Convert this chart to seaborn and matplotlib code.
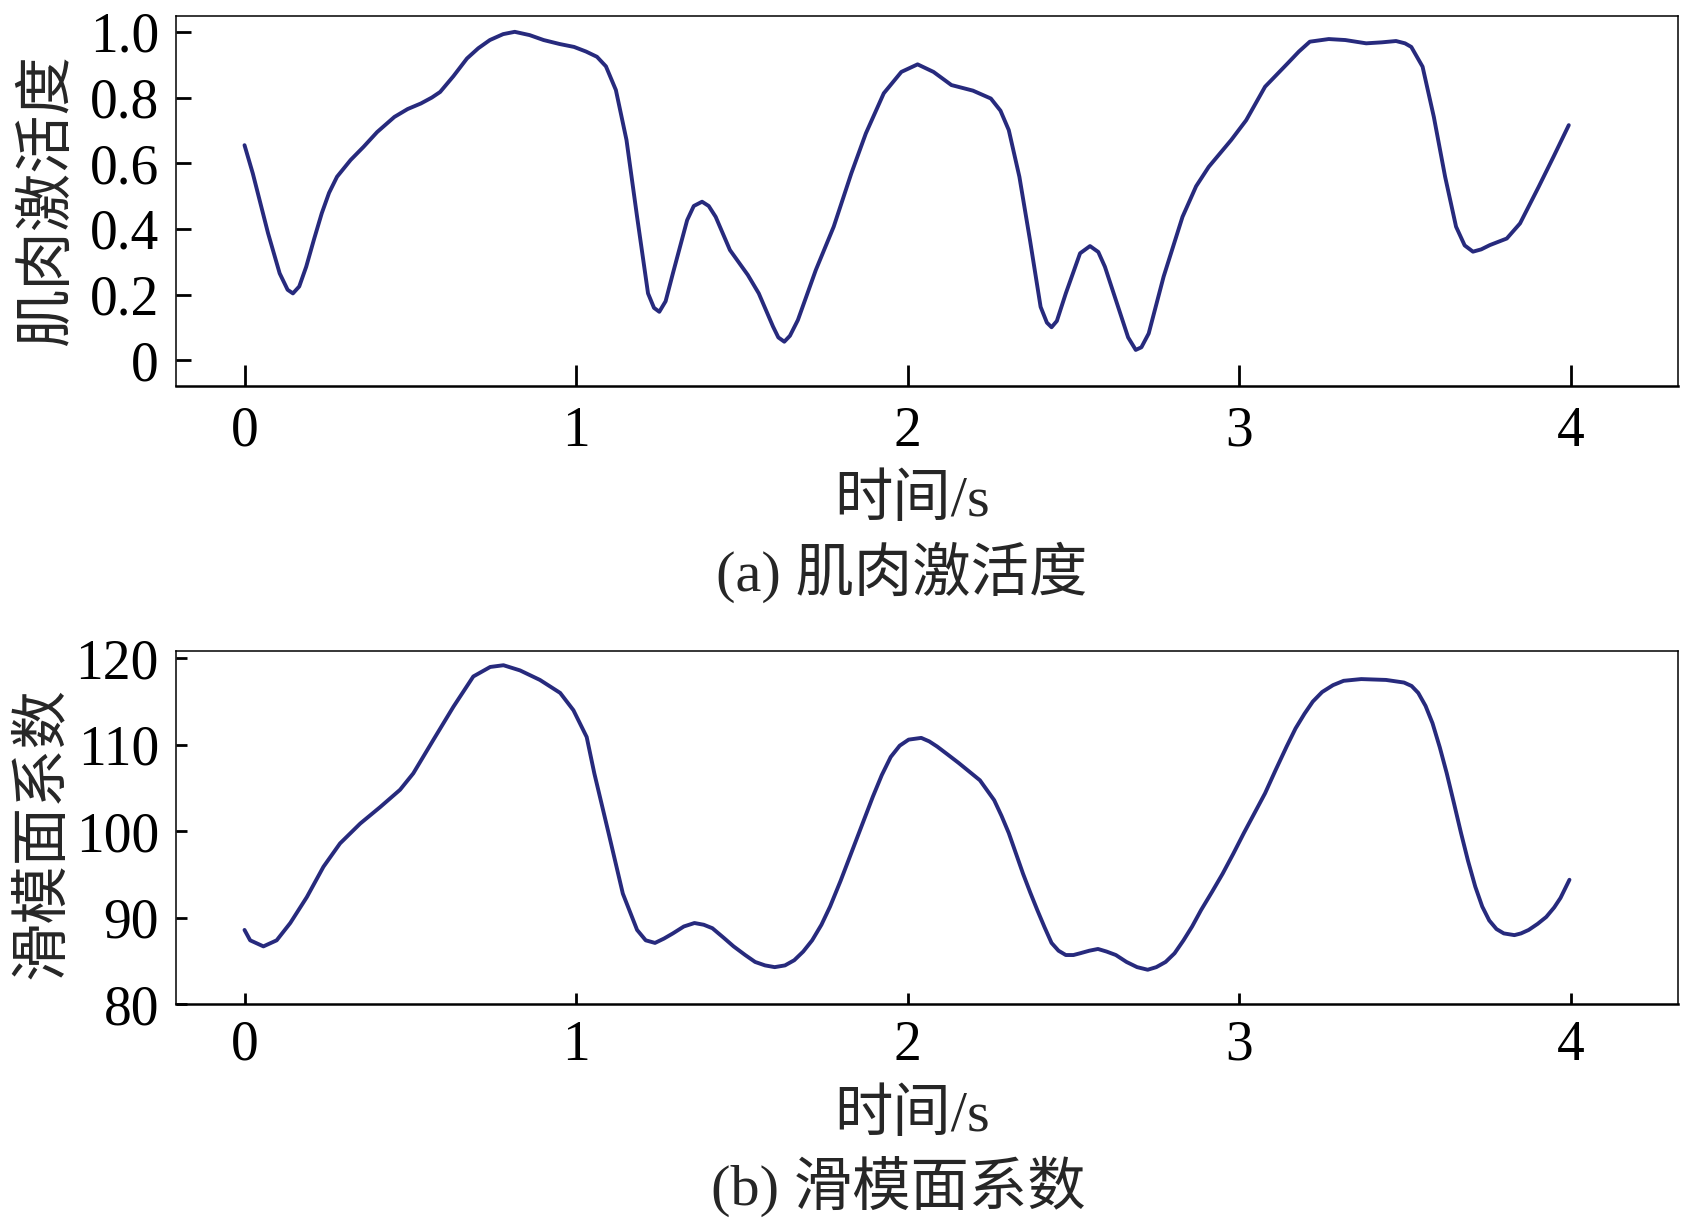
import matplotlib
matplotlib.use('Agg')
import matplotlib.pyplot as plt
import seaborn as sns
import pandas as pd

# (a) 肌肉激活度 — 读图取点
time_a = [0.000, 0.025, 0.071, 0.106, 0.130, 0.146, 0.165, 0.186, 0.210, 0.233,
          0.255, 0.279, 0.320, 0.359, 0.400, 0.452, 0.492, 0.532, 0.565, 0.590,
          0.630, 0.671, 0.705, 0.740, 0.780, 0.815, 0.860, 0.902, 0.950, 0.994,
          1.030, 1.063, 1.090, 1.120, 1.152, 1.184, 1.217, 1.235, 1.251, 1.270,
          1.292, 1.335, 1.355, 1.380, 1.400, 1.421, 1.464, 1.518, 1.551, 1.594,
          1.610, 1.628, 1.645, 1.669, 1.723, 1.777, 1.830, 1.874, 1.928, 1.981,
          2.030, 2.078, 2.132, 2.197, 2.251, 2.280, 2.305, 2.337, 2.369, 2.401,
          2.420, 2.434, 2.450, 2.477, 2.520, 2.550, 2.575, 2.595, 2.638, 2.665,
          2.688, 2.705, 2.727, 2.772, 2.829, 2.870, 2.908, 2.976, 3.021, 3.078,
          3.146, 3.180, 3.213, 3.270, 3.320, 3.383, 3.430, 3.473, 3.500, 3.519,
          3.553, 3.587, 3.621, 3.654, 3.680, 3.705, 3.730, 3.756, 3.807, 3.847,
          3.903, 3.948, 3.994]
act_a = [0.655, 0.569, 0.387, 0.265, 0.215, 0.204, 0.225, 0.285, 0.370, 0.448,
         0.510, 0.559, 0.610, 0.650, 0.695, 0.741, 0.765, 0.782, 0.800, 0.817,
         0.865, 0.919, 0.950, 0.975, 0.993, 1.000, 0.990, 0.975, 0.963, 0.954,
         0.940, 0.924, 0.895, 0.823, 0.671, 0.437, 0.204, 0.160, 0.148, 0.180,
         0.265, 0.427, 0.470, 0.483, 0.470, 0.437, 0.336, 0.260, 0.204, 0.103,
         0.070, 0.057, 0.075, 0.123, 0.275, 0.407, 0.569, 0.691, 0.813, 0.878,
         0.901, 0.878, 0.838, 0.821, 0.797, 0.760, 0.701, 0.559, 0.366, 0.163,
         0.115, 0.101, 0.120, 0.204, 0.326, 0.348, 0.330, 0.285, 0.153, 0.070,
         0.032, 0.040, 0.082, 0.255, 0.437, 0.530, 0.589, 0.671, 0.731, 0.833,
         0.904, 0.940, 0.970, 0.978, 0.975, 0.965, 0.968, 0.972, 0.965, 0.954,
         0.894, 0.741, 0.559, 0.407, 0.350, 0.331, 0.338, 0.351, 0.371, 0.417,
         0.528, 0.620, 0.716]

# (b) 滑模面系数
time_b = [0.000, 0.017, 0.057, 0.097, 0.138, 0.188, 0.238, 0.288, 0.349, 0.409,
          0.469, 0.509, 0.570, 0.630, 0.690, 0.741, 0.781, 0.831, 0.891, 0.952,
          0.992, 1.032, 1.055, 1.098, 1.141, 1.184, 1.210, 1.238, 1.265, 1.292,
          1.325, 1.357, 1.385, 1.411, 1.445, 1.475, 1.510, 1.540, 1.570, 1.599,
          1.630, 1.658, 1.685, 1.712, 1.740, 1.766, 1.798, 1.830, 1.863, 1.895,
          1.922, 1.949, 1.976, 2.003, 2.041, 2.065, 2.089, 2.120, 2.154, 2.186,
          2.218, 2.261, 2.283, 2.305, 2.327, 2.348, 2.370, 2.391, 2.413, 2.434,
          2.455, 2.477, 2.500, 2.520, 2.548, 2.574, 2.600, 2.628, 2.660, 2.692,
          2.724, 2.750, 2.778, 2.805, 2.832, 2.858, 2.885, 2.918, 2.950, 2.982,
          3.014, 3.046, 3.078, 3.110, 3.143, 3.170, 3.197, 3.222, 3.250, 3.283,
          3.315, 3.368, 3.443, 3.497, 3.520, 3.540, 3.562, 3.583, 3.605, 3.626,
          3.648, 3.669, 3.690, 3.712, 3.733, 3.754, 3.776, 3.798, 3.830, 3.850,
          3.873, 3.900, 3.926, 3.950, 3.969, 3.996]
smc_b = [88.6, 87.4, 86.7, 87.4, 89.4, 92.4, 95.9, 98.6, 100.9, 102.8,
         104.8, 106.7, 110.6, 114.4, 117.9, 119.0, 119.2, 118.6, 117.5, 116.0,
         114.0, 110.9, 106.7, 99.8, 92.8, 88.6, 87.4, 87.1, 87.6, 88.2,
         89.0, 89.4, 89.2, 88.8, 87.7, 86.7, 85.7, 84.9, 84.5, 84.3,
         84.5, 85.1, 86.1, 87.4, 89.2, 91.3, 94.3, 97.5, 100.8, 104.0,
         106.5, 108.6, 109.9, 110.6, 110.8, 110.4, 109.8, 108.9, 107.9, 106.9,
         105.9, 103.6, 101.8, 99.8, 97.4, 95.1, 92.9, 90.9, 88.9, 87.1,
         86.2, 85.7, 85.7, 85.9, 86.2, 86.4, 86.1, 85.7, 84.9, 84.3,
         84.0, 84.3, 84.9, 85.9, 87.4, 89.0, 90.9, 93.0, 95.1, 97.4,
         99.8, 102.1, 104.4, 107.1, 109.8, 111.9, 113.6, 115.0, 116.1, 116.9,
         117.4, 117.6, 117.5, 117.2, 116.8, 116.0, 114.5, 112.5, 109.7, 106.7,
         103.2, 99.8, 96.6, 93.6, 91.3, 89.7, 88.7, 88.2, 88.0, 88.2,
         88.6, 89.3, 90.1, 91.2, 92.3, 94.4]

xticks = [0, 1, 2, 3, 4]
yticks_a = [0, 0.2, 0.4, 0.6, 0.8, 1.0]
ylabels_a = ['0', '0.2', '0.4', '0.6', '0.8', '1.0']
yticks_b = [80, 90, 100, 110, 120]

sns.set_theme(style='ticks')
plt.rcParams['font.family'] = ['Liberation Serif', 'Noto Sans CJK SC']

line_color = '#272a7d'
num_size = 40
cjk_size = 42

fig = plt.figure(figsize=(16.88, 12.19), dpi=100)
ax1 = fig.add_axes([0.104, 0.6833, 0.890, 0.3038])
ax2 = fig.add_axes([0.104, 0.1761, 0.890, 0.2901])

df_a = pd.DataFrame({'t': time_a, 'v': act_a})
df_b = pd.DataFrame({'t': time_b, 'v': smc_b})

line_kw = dict(color=line_color, linewidth=2.8, estimator=None,
               solid_joinstyle='round', solid_capstyle='round')
sns.lineplot(data=df_a, x='t', y='v', ax=ax1, **line_kw)
sns.lineplot(data=df_b, x='t', y='v', ax=ax2, **line_kw)

ax1.set_xlim(-0.208, 4.323)
ax1.set_ylim(-0.078, 1.049)
ax2.set_xlim(-0.208, 4.323)
ax2.set_ylim(80, 120.88)

ax1.set_xticks(xticks)
ax1.set_xticklabels([str(v) for v in xticks])
ax1.set_yticks(yticks_a)
ax1.set_yticklabels(ylabels_a)
ax2.set_xticks(xticks)
ax2.set_xticklabels([str(v) for v in xticks])
ax2.set_yticks(yticks_b)
ax2.set_yticklabels([str(v) for v in yticks_b])

for ax in (ax1, ax2):
    for side in ('top', 'right', 'left'):
        ax.spines[side].set_linewidth(1.1)
        ax.spines[side].set_color('black')
    ax.spines['bottom'].set_linewidth(1.8)
    ax.spines['bottom'].set_color('black')
    ax.tick_params(labelsize=num_size, colors='black', width=2, direction='in')

ax1.tick_params(axis='x', length=15, pad=14)
ax1.tick_params(axis='y', length=11, pad=12)
ax2.tick_params(axis='x', length=8, pad=11)
ax2.tick_params(axis='y', length=8, pad=12)

ax1.set_xlabel('时间/s', fontsize=cjk_size, va='center')
ax1.xaxis.set_label_coords(0.490, -0.312)
ax1.set_ylabel('肌肉激活度', fontsize=cjk_size, va='center')
ax1.yaxis.set_label_coords(-0.085, 0.502)

ax2.set_xlabel('时间/s', fontsize=cjk_size, va='center')
ax2.xaxis.set_label_coords(0.490, -0.317)
ax2.set_ylabel('滑模面系数', fontsize=cjk_size, va='center')
ax2.yaxis.set_label_coords(-0.088, 0.484)

fig.text(0.534, 0.5308, '(a) 肌肉激活度', fontsize=cjk_size, ha='center', va='center')
fig.text(0.532, 0.0270, '(b) 滑模面系数', fontsize=cjk_size, ha='center', va='center')

fig.savefig('out.png', dpi=100)
plt.close('all')
